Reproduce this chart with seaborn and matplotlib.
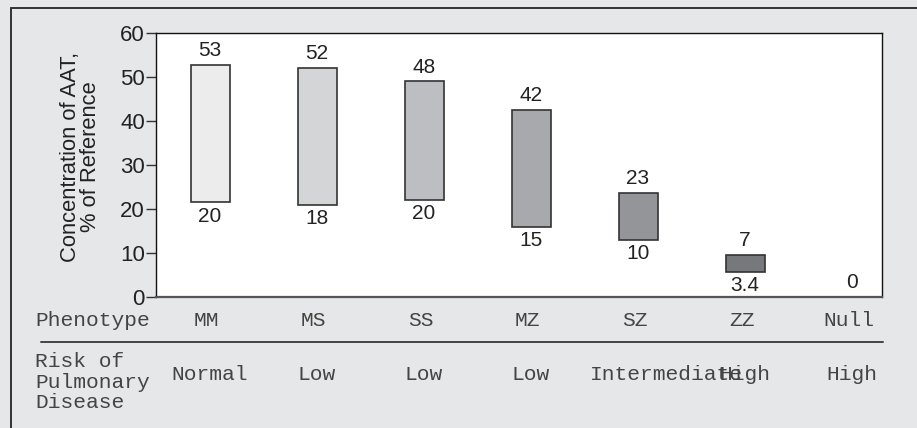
import matplotlib
matplotlib.use("Agg")
import matplotlib.pyplot as plt
import matplotlib.transforms as mtransforms
import numpy as np
import seaborn as sns

# ---------------------------------------------------------------------------
# Data
# ---------------------------------------------------------------------------
phenotypes = ["MM", "MS", "SS", "MZ", "SZ", "ZZ", "Null"]
risk = ["Normal", "Low", "Low", "Low", "Intermediate", "High", "High"]
bar_low = [21.5, 21.0, 22.0, 16.0, 13.0, 5.7, 0.0]
bar_high = [52.7, 52.0, 49.0, 42.5, 23.6, 9.5, 0.0]
top_labels = ["53", "52", "48", "42", "23", "7", "0"]
bottom_labels = ["20", "18", "20", "15", "10", "3.4", ""]
fills = ["#ececed", "#d4d5d7", "#bdbec1", "#a8a9ac", "#939598", "#77787b", "#ffffff"]

BG = "#e6e7e8"
EDGE = "#333333"
MONO = "Liberation Mono"
SANS = "Liberation Sans"
NUM_SIZE = 15
MONO_SIZE = 15.3

sns.set_theme(style="white")
plt.rcParams["font.family"] = [SANS, "DejaVu Sans"]

W, H = 917, 428
fig = plt.figure(figsize=(W / 100, H / 100), dpi=100, facecolor=BG)
ax = fig.add_axes([156 / W, 1 - 297 / H, 726 / W, 264 / H])
ax.set_facecolor("white")

spans = np.array(bar_high) - np.array(bar_low)
sns.barplot(x=phenotypes, y=spans, bottom=bar_low, color=fills[0],
            edgecolor=EDGE, linewidth=1.2, width=0.365, ax=ax)
for patch, fc, sp in zip(ax.patches, fills, spans):
    patch.set_facecolor(fc)
    if sp == 0:
        patch.set_visible(False)

ax.set_xlim(-0.505, 6.28)
ax.set_ylim(0, 60)
ax.set_yticks(range(0, 61, 10))
ax.tick_params(axis="y", left=True, length=7, width=1, color="#333333",
               labelsize=16, pad=1, labelcolor="#222222")
ax.tick_params(axis="x", bottom=False, labelbottom=False)
for side in ["top", "right", "left"]:
    ax.spines[side].set_color("#111111")
    ax.spines[side].set_linewidth(1.0)
ax.spines["bottom"].set_color("#555555")
ax.spines["bottom"].set_linewidth(1.6)
ax.set_xlabel("")
ax.set_ylabel("Concentration of AAT,\n% of Reference", fontsize=15.8,
              color="#222222", linespacing=0.95)
ax.yaxis.set_label_coords(-0.076, 0.53)

for i in range(len(phenotypes)):
    ax.annotate(top_labels[i], (i, bar_high[i]), xytext=(0, 3.5),
                textcoords="offset points", ha="center", va="bottom",
                fontsize=NUM_SIZE, color="#222222")
    if bottom_labels[i]:
        ax.annotate(bottom_labels[i], (i, bar_low[i]), xytext=(0, -3),
                    textcoords="offset points", ha="center", va="top",
                    fontsize=NUM_SIZE, color="#222222")

# Table rows below the axes
trans = mtransforms.blended_transform_factory(ax.transData, fig.transFigure)
row1_y = 1 - 320 / H
row2_y = 1 - 374 / H
fig.text(35 / W, row1_y, "Phenotype", family=MONO, fontsize=MONO_SIZE,
         color="#444444", va="center", ha="left")
fig.text(35 / W, 1 - 382 / H, "Risk of\nPulmonary\nDisease", family=MONO,
         fontsize=MONO_SIZE, color="#444444", va="center", ha="left",
         linespacing=1.12)
for i, (p, r) in enumerate(zip(phenotypes, risk)):
    ax.text(i - 0.03, row1_y, p, transform=trans, family=MONO,
            fontsize=MONO_SIZE, color="#444444", va="center", ha="center")
    # the long label runs to the right into its neighbour, as in the print
    if len(r) > 8:
        ax.text(i - 0.45, row2_y, r, transform=trans, family=MONO,
                fontsize=MONO_SIZE, color="#444444", va="center", ha="left")
    else:
        ax.text(i, row2_y, r, transform=trans, family=MONO,
                fontsize=MONO_SIZE, color="#444444", va="center", ha="center")

# Separator line and outer frame
fig.add_artist(plt.Line2D([41 / W, 883 / W], [1 - 342 / H] * 2,
                          transform=fig.transFigure, color="#444444", lw=1.4))
fig.add_artist(plt.Line2D([11 / W, 1.0], [1 - 8 / H] * 2,
                          transform=fig.transFigure, color="#333333", lw=1.4))
fig.add_artist(plt.Line2D([11 / W, 11 / W], [0, 1 - 8 / H],
                          transform=fig.transFigure, color="#333333", lw=1.4))

fig.savefig("out.png", dpi=100, facecolor=BG)
